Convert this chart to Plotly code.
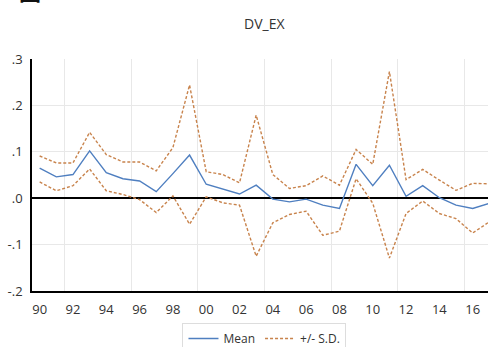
import plotly.graph_objects as go

years = list(range(1990, 2018))
mean = [0.065, 0.046, 0.051, 0.102, 0.055, 0.042, 0.037, 0.014, 0.053, 0.093,
        0.030, 0.019, 0.009, 0.028, -0.002, -0.008, -0.002, -0.015, -0.022, 0.073,
        0.027, 0.071, 0.004, 0.027, 0.001, -0.015, -0.022, -0.011]
upper = [0.091, 0.076, 0.076, 0.142, 0.094, 0.078, 0.078, 0.059, 0.109, 0.244,
         0.057, 0.051, 0.033, 0.179, 0.051, 0.021, 0.027, 0.048, 0.028, 0.105,
         0.073, 0.273, 0.040, 0.062, 0.039, 0.017, 0.032, 0.031]
lower = [0.035, 0.016, 0.027, 0.063, 0.016, 0.008, -0.003, -0.031, 0.005, -0.056,
         0.003, -0.010, -0.015, -0.125, -0.053, -0.035, -0.028, -0.080, -0.071, 0.042,
         -0.011, -0.129, -0.033, -0.006, -0.033, -0.044, -0.075, -0.051]
x_tickvals = list(range(1990, 2018, 2))
x_ticktext = ["90", "92", "94", "96", "98", "00", "02", "04", "06", "08", "10", "12", "14", "16"]
y_tickvals = [0.3, 0.2, 0.1, 0.0, -0.1, -0.2]
y_ticktext = [".3", ".2", ".1", ".0", "-.1", "-.2"]

blue = "#4f7fc0"
orange = "#c8834c"

fig = go.Figure()
fig.add_trace(go.Scatter(x=years, y=mean, mode="lines", name="Mean",
                         line=dict(color=blue, width=1.4)))
fig.add_trace(go.Scatter(x=years, y=upper, mode="lines", name="+/- S.D.",
                         line=dict(color=orange, width=1.4, dash="3px,2px")))
fig.add_trace(go.Scatter(x=years, y=lower, mode="lines", name="+/- S.D.",
                         showlegend=False,
                         line=dict(color=orange, width=1.4, dash="3px,2px")))

fig.update_layout(
    width=488, height=347,
    margin=dict(l=32, r=0, t=59, b=56, pad=0, autoexpand=False),
    plot_bgcolor="white", paper_bgcolor="white",
    font=dict(family="Open Sans, Noto Sans, sans-serif", color="#333333", size=13),
    showlegend=True,
    legend=dict(orientation="h", x=0.33, xanchor="left", y=-0.138, yanchor="top",
                bordercolor="#dddddd", borderwidth=1, font=dict(size=12, color="#333"),
                itemwidth=30, tracegroupgap=0),
    annotations=[
        dict(text="DV_EX", xref="paper", yref="paper", x=0.509, y=1.155,
             xanchor="center", yanchor="middle", showarrow=False,
             font=dict(size=14, color="#333333")),
        dict(text="<b>图 2</b>", xref="paper", yref="paper", x=-0.033, y=1.22,
             xanchor="left", yanchor="bottom", showarrow=False,
             font=dict(size=22, color="#111111", family="Noto Sans CJK SC")),
    ],
)
fig.update_xaxes(
    range=[1989.54, 2016.92],
    tickmode="array", tickvals=x_tickvals, ticktext=x_ticktext,
    showgrid=False, showline=True, linecolor="black", linewidth=1.5,
    ticks="outside", ticklen=6, tickcolor="rgba(0,0,0,0)",
    zeroline=False,
    minor=dict(tickmode="array", tickvals=[1991.5, 1995.5, 1999.5, 2003.5, 2007.5, 2011.5, 2015.5],
               showgrid=True, gridcolor="#e8e8e8", gridwidth=1, ticks=""),
)
fig.update_yaxes(
    range=[-0.2, 0.3],
    tickmode="array", tickvals=y_tickvals, ticktext=y_ticktext,
    showgrid=False, showline=True, linecolor="black", linewidth=1.5,
    ticks="outside", ticklen=5, tickcolor="rgba(0,0,0,0)",
    zeroline=True, zerolinecolor="black", zerolinewidth=1.5,
    minor=dict(tickmode="array", tickvals=[-0.1, 0.1, 0.2],
               showgrid=True, gridcolor="#e8e8e8", gridwidth=1, ticks=""),
)

fig.write_html("out.html", config={"displayModeBar": False},
               post_script="document.body.style.margin='0';")
